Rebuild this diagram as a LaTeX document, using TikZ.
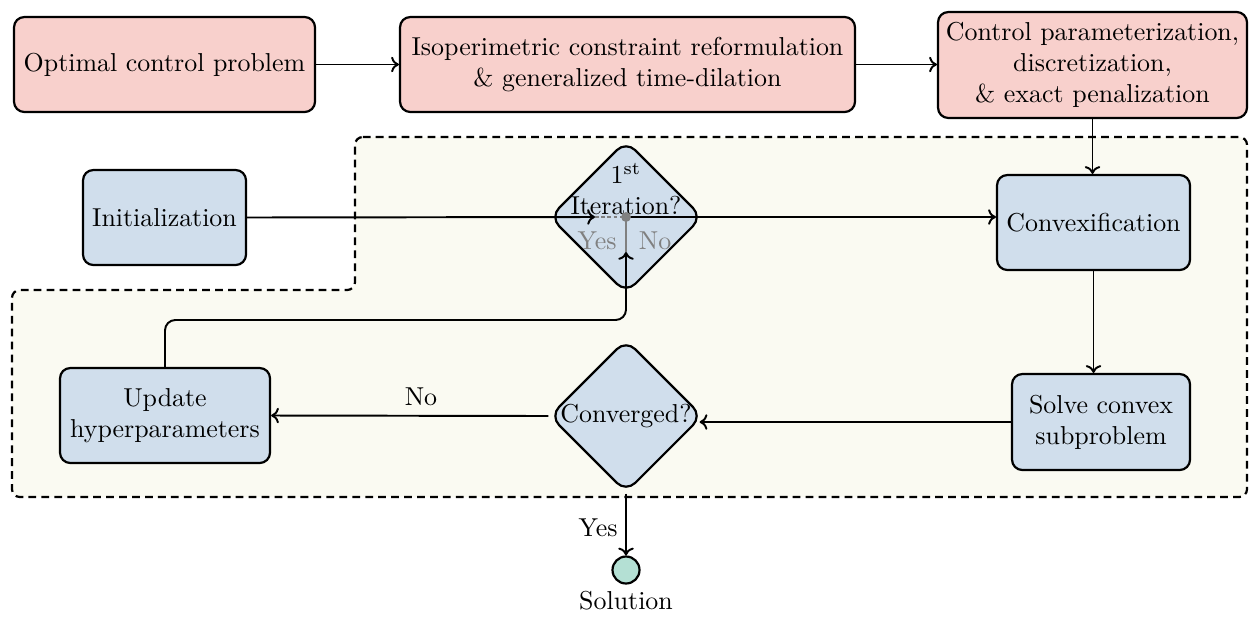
\documentclass[tikz,border=0pt]{standalone}
\usetikzlibrary{shapes.geometric,arrows.meta}
\definecolor{pinkfill}{HTML}{F8D0CC}
\definecolor{bluefill}{HTML}{D0DEEC}
\definecolor{creamfill}{HTML}{FAFAF2}
\definecolor{solfill}{HTML}{B4E0D4}
\definecolor{switchgray}{HTML}{808080}
\newcommand\pxu{0.386pt}
\begin{document}
\begin{tikzpicture}[x=0.386pt,y=-0.386pt,
  basebox/.style={draw, line width=0.85pt, rounded corners=4pt, align=center, inner sep=2pt},
  pbox/.style={basebox, fill=pinkfill},
  bbox/.style={basebox, fill=bluefill},
  dia/.style={diamond, draw, line width=0.85pt, fill=bluefill, rounded corners=5pt, minimum size=153*\pxu, inner sep=0pt},
  conn/.style={line width=0.75pt, -{To[length=3pt,width=6pt]}},
  grayline/.style={line width=0.8pt, switchgray},
]
\useasboundingbox (0,0) rectangle (1249,616);
% dashed region
\draw[line width=0.85pt, dash pattern=on 3pt off 2pt, fill=creamfill, rounded corners=3pt]
  (355,137) -- (1247,137) -- (1247,497) -- (12,497) -- (12,290) -- (355,290) -- cycle;

\node[pbox, minimum width=301*\pxu, minimum height=95*\pxu] (ocp) at (164.5,64.5) {Optimal control problem};
\node[pbox, minimum width=455*\pxu, minimum height=95*\pxu] (iso) at (627.5,64.5) {Isoperimetric constraint reformulation\\\& generalized time-dilation};
\node[pbox, minimum width=309*\pxu, minimum height=106*\pxu] (cp) at (1092.5,65) {Control parameterization,\\discretization,\\\& exact penalization};

\node[bbox, minimum width=163*\pxu, minimum height=95*\pxu] (init) at (164.5,217.5) {Initialization};
\node[dia] (it) at (626,217) {};
\node[align=center, inner sep=0pt] (ittext) at (626,189) {1\textsuperscript{st}\\Iteration?};
\node[bbox, minimum width=193*\pxu, minimum height=95*\pxu] (cvx) at (1093.5,222.5) {Convexification};
\node[bbox, minimum width=178*\pxu, minimum height=96*\pxu] (solve) at (1101,422) {Solve convex\\subproblem};
\node[dia] (conv) at (626,416) {};
\node[inner sep=0pt] (convtext) at (626,416) {Converged?};
\node[bbox, minimum width=210*\pxu, minimum height=95*\pxu] (upd) at (165,415.5) {Update\\hyperparameters};
\node[circle, draw, line width=0.85pt, fill=solfill, minimum size=27*\pxu, inner sep=0pt] (sol) at (626,570) {};
\node (soltext) at (626,601) {Solution};

\coordinate (sw) at (626,217);
\coordinate (yestip) at (595,217);
\coordinate (notip) at (626,252);

% connectors
\draw[conn] (ocp.east) -- (iso.west);
\draw[conn] (iso.east) -- (iso.east -| cp.west);
\draw[conn] (cp.south) -- (cp.south |- cvx.north);
\draw[conn] (init.east) -- (yestip);
\draw[grayline, dash pattern=on 1.4pt off 1pt] (yestip) -- (sw);
\draw[grayline] (sw) -- (notip);
\draw[conn] (sw) -- (sw -| cvx.west);
\fill[switchgray] (sw) circle (1.9pt);
\node[switchgray, inner sep=0pt] (yeslbl) at (597,241) {Yes};
\node[switchgray, inner sep=0pt] (nolbl) at (655,241) {No};
\draw[conn, rounded corners=4pt] (upd.north) |- (626,320) -- (notip);
\draw[conn] (cvx.south) -- (cvx.south |- solve.north);
\draw[conn] (solve.west) -- ([xshift=-4*\pxu]solve.west -| conv.east);
\draw[conn] (conv.west) -- (upd.east);
\node[inner sep=0pt] (nolbl2) at (421,397) {No};
\draw[conn] (conv.south) -- (sol.north);
\node[inner sep=0pt] (yeslbl2) at (598,528) {Yes};
\end{tikzpicture}
\end{document}
